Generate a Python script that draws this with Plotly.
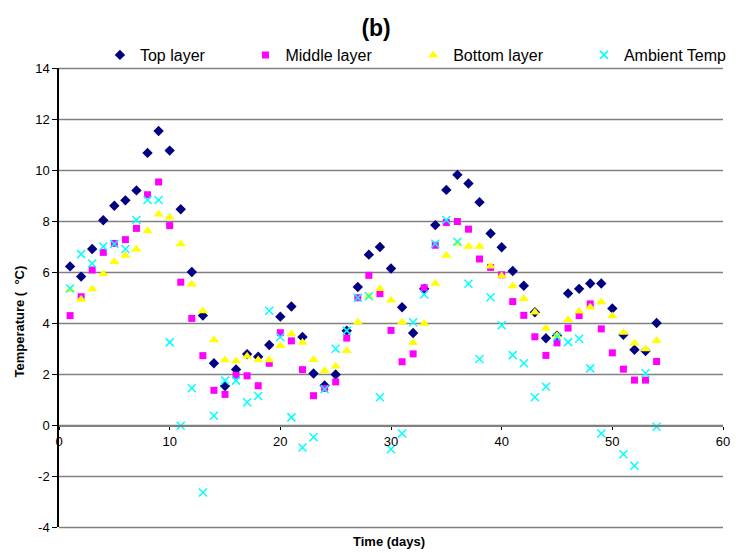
import json
import plotly.graph_objects as go

days = list(range(1, 55))

top_layer = [6.22, 5.82, 6.90, 8.03, 8.60, 8.81, 9.20, 10.67, 11.53, 10.76,
             8.46, 6.00, 4.29, 2.42, 1.53, 2.18, 2.78, 2.68, 3.14, 4.25,
             4.65, 3.45, 2.02, 1.55, 1.98, 3.70, 5.41, 6.68, 6.98, 6.14,
             4.62, 3.61, 5.34, 7.84, 9.22, 9.81, 9.47, 8.74, 7.51, 6.97,
             6.04, 5.46, 4.42, 3.40, 3.50, 5.16, 5.34, 5.55, 5.55, 4.57,
             3.54, 2.95, 2.90, 4.00]

middle_layer = [4.29, 5.03, 6.08, 6.77, 7.12, 7.27, 7.71, 9.03, 9.53, 7.82,
                5.60, 4.18, 2.72, 1.36, 1.20, 1.95, 1.93, 1.54, 2.42, 3.62,
                3.30, 2.17, 1.15, 1.43, 1.69, 3.41, 4.99, 5.87, 5.15, 3.71,
                2.48, 2.79, 5.38, 7.05, 7.94, 7.98, 7.68, 6.51, 6.18, 5.89,
                4.84, 4.30, 3.46, 2.73, 3.22, 3.80, 4.29, 4.75, 3.77, 2.83,
                2.19, 1.76, 1.76, 2.49]

bottom_layer = [5.30, 4.92, 5.33, 5.92, 6.40, 6.65, 6.89, 7.62, 8.26, 8.15,
                7.10, 5.52, 4.47, 3.33, 2.55, 2.51, 2.70, 2.55, 2.55, 3.11,
                3.57, 3.24, 2.56, 2.13, 2.30, 2.91, 4.03, 5.05, 5.34, 4.89,
                4.03, 3.23, 3.98, 5.55, 6.65, 7.13, 7.00, 7.00, 6.23, 5.84,
                5.45, 4.95, 4.42, 3.79, 3.50, 4.13, 4.46, 4.62, 4.82, 4.27,
                3.63, 3.21, 2.98, 3.30]

ambient_temp = [5.35, 6.70, 6.33, 7.00, 7.10, 6.90, 8.04, 8.82, 8.82, 3.24,
                -0.03, 1.44, -2.65, 0.36, 1.74, 1.74, 0.89, 1.14, 4.48, 3.45,
                0.30, -0.88, -0.48, 1.40, 2.99, 3.70, 4.99, 5.05, 1.09, -0.95,
                -0.33, 4.03, 5.12, 7.11, 8.04, 7.19, 5.54, 2.59, 5.01, 3.91,
                2.74, 2.42, 1.09, 1.50, 3.45, 3.25, 3.38, 2.22, -0.33, None,
                -1.15, -1.60, 2.03, -0.07]

x_ticks = [0, 10, 20, 30, 40, 50, 60]
y_ticks = [-4, -2, 0, 2, 4, 6, 8, 10, 12, 14]

FONT = "Arial, Liberation Sans, sans-serif"
X_MIN, X_MAX = 0, 60
Y_MIN, Y_MAX = -4, 14
GRID = "#808080"

fig = go.Figure()
fig.add_trace(go.Scatter(x=days, y=top_layer, mode="markers", name="Top layer",
                         legend="legend",
                         marker=dict(symbol="diamond", size=8, color="#000080")))
fig.add_trace(go.Scatter(x=days, y=middle_layer, mode="markers", name="Middle layer",
                         legend="legend2",
                         marker=dict(symbol="square", size=7, color="#FF00FF")))
fig.add_trace(go.Scatter(x=days, y=bottom_layer, mode="markers", name="Bottom layer",
                         legend="legend3",
                         marker=dict(symbol="triangle-up", size=9, color="#FFFF00")))
fig.add_trace(go.Scatter(x=days, y=ambient_temp, mode="markers", name="Ambient Temp",
                         legend="legend4",
                         marker=dict(symbol="x-thin-open", size=8,
                                     line=dict(color="#00FFFF", width=1.5),
                                     color="#00FFFF")))
# empty helper trace so the x axis drawn at the y = 0 line is rendered
fig.add_trace(go.Scatter(x=[], y=[], xaxis="x2", yaxis="y2", showlegend=False,
                         hoverinfo="skip"))


def leg(px):
    return dict(orientation="h", x=(px + 1 - 59) / 673, xanchor="left",
                y=(527 - 55) / 459, yanchor="middle", itemwidth=30,
                font=dict(size=16, family=FONT), bgcolor="rgba(0,0,0,0)")


zero_frac = (0 - Y_MIN) / (Y_MAX - Y_MIN)

fig.update_layout(
    template="none",
    width=736, height=553,
    margin=dict(l=59, r=4, t=68, b=26),
    paper_bgcolor="white", plot_bgcolor="rgba(0,0,0,0)",
    font=dict(family=FONT, color="black", size=12),
    title=dict(text="<b>(b)</b>", x=0.511, xref="container", xanchor="center",
               y=0.95, yref="container", yanchor="middle",
               font=dict(size=23, family=FONT, color="black")),
    legend=leg(99.5), legend2=leg(247), legend3=leg(417), legend4=leg(590),
    showlegend=True,
    xaxis=dict(range=[X_MIN, X_MAX], showgrid=False, zeroline=False,
               showline=False, showticklabels=False, ticks=""),
    yaxis=dict(range=[Y_MIN, Y_MAX], tickvals=y_ticks, ticktext=[str(v) for v in y_ticks],
               showgrid=True, gridcolor=GRID, gridwidth=1, zeroline=False,
               showline=True, linecolor="black", linewidth=1.5,
               ticks="outside", ticklen=5, tickcolor="black",
               tickfont=dict(size=13, family=FONT)),
    xaxis2=dict(range=[X_MIN, X_MAX], anchor="y2", domain=[0, 1],
                tickvals=x_ticks, ticktext=[str(v) for v in x_ticks],
                showgrid=False, zeroline=False,
                showline=True, linecolor=GRID, linewidth=2,
                ticks="outside", ticklen=3, tickcolor="black",
                tickfont=dict(size=13, family=FONT)),
    yaxis2=dict(range=[0, 1], anchor="x2", domain=[zero_frac, 1], visible=False,
                showgrid=False, zeroline=False),
    annotations=[
        dict(text="<b>Time (days)</b>", xref="paper", yref="paper",
             x=(393 - 59) / 673, y=(527 - 541) / 459, showarrow=False,
             xanchor="center", yanchor="middle", font=dict(size=13, family=FONT)),
        dict(text="<b>Temperature (  °C)</b>", xref="paper", yref="paper",
             x=(18 - 59) / 673, y=(527 - 322) / 459, showarrow=False, textangle=-90,
             xanchor="center", yanchor="middle", font=dict(size=13, family=FONT)),
    ],
)

# Horizontal gridlines placed with Plotly's own y scale (yaxis.l2p), drawn
# once the figure has rendered.
grid_js = """
var gd = document.getElementById('{plot_id}');
function drawGrid() {
  var fl = gd._fullLayout, ya = fl.yaxis, xa = fl.xaxis;
  var svg = gd.querySelector('.main-svg');
  var ns = 'http://www.w3.org/2000/svg';
  var old = svg.querySelector('g.custom-grid');
  if (old) old.parentNode.removeChild(old);
  var g = document.createElementNS(ns, 'g');
  g.setAttribute('class', 'custom-grid');
  TICKS.forEach(function (v) {
    var y = Math.round(ya._offset + ya.l2p(v)) + 0.5;
    var l = document.createElementNS(ns, 'line');
    l.setAttribute('x1', xa._offset);
    l.setAttribute('x2', xa._offset + xa._length);
    l.setAttribute('y1', y);
    l.setAttribute('y2', y);
    l.setAttribute('stroke', 'COLOR');
    l.setAttribute('stroke-width', '1.5');
    g.appendChild(l);
  });
  var cart = svg.querySelector('g.cartesianlayer');
  svg.insertBefore(g, cart);
}
drawGrid();
""".replace("TICKS", json.dumps(y_ticks)).replace("COLOR", GRID)

fig.write_html("out.html", post_script=grid_js)
